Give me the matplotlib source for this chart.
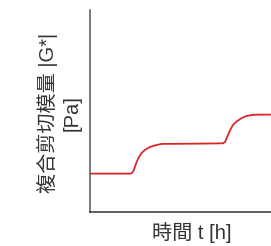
import matplotlib
matplotlib.use("Agg")
import matplotlib.pyplot as plt

plt.rcParams['font.family'] = ['Liberation Sans', 'Noto Sans CJK SC', 'DejaVu Sans']

# Data (time in arbitrary units, modulus in arbitrary units)
time_h = [0.00, 2.01, 2.12, 2.21, 2.29, 2.37, 2.53, 2.70, 2.94, 3.19, 3.51, 4.90,
          6.52, 6.63, 6.73, 6.85, 7.01, 7.17, 7.42, 7.66, 7.91, 8.24, 8.87]
modulus = [1.90, 1.90, 2.01, 2.26, 2.48, 2.67, 2.92, 3.08, 3.22, 3.30, 3.37, 3.38,
           3.40, 3.48, 3.73, 4.02, 4.31, 4.47, 4.64, 4.75, 4.80, 4.82, 4.82]
xlabel = "時間 t [h]"
ylabel = "複合剪切模量 |G*|\n[Pa]"

W, H = 271, 246
fig = plt.figure(figsize=(W / 100, H / 100), dpi=100)
ax = fig.add_axes([90 / W, (H - 212) / H, 204 / W, 202 / H])
ax.plot(time_h, modulus, color='#d9262b', lw=1.3, solid_capstyle='butt')
ax.set_xlim(0, 10)
ax.set_ylim(0, 10)
ax.set_xticks([])
ax.set_yticks([])
for s in ['top', 'right']:
    ax.spines[s].set_visible(False)
ax.spines['left'].set_color('#555555')
ax.spines['bottom'].set_color('#333333')
ax.spines['left'].set_linewidth(1.1)
ax.spines['bottom'].set_linewidth(1.1)

ax.set_xlabel(xlabel, fontsize=14.5, color='#333333')
ax.xaxis.set_label_coords((192 - 90) / 204, -(233 - 212) / 202)
ax.xaxis.label.set_va('center')
ax.set_ylabel(ylabel, fontsize=14.5, color='#333333', linespacing=1.3)
ax.yaxis.set_label_coords(-(90 - 59) / 204, (212 - 113) / 202)
ax.yaxis.label.set_va('center')

fig.savefig('out.png', dpi=100)
